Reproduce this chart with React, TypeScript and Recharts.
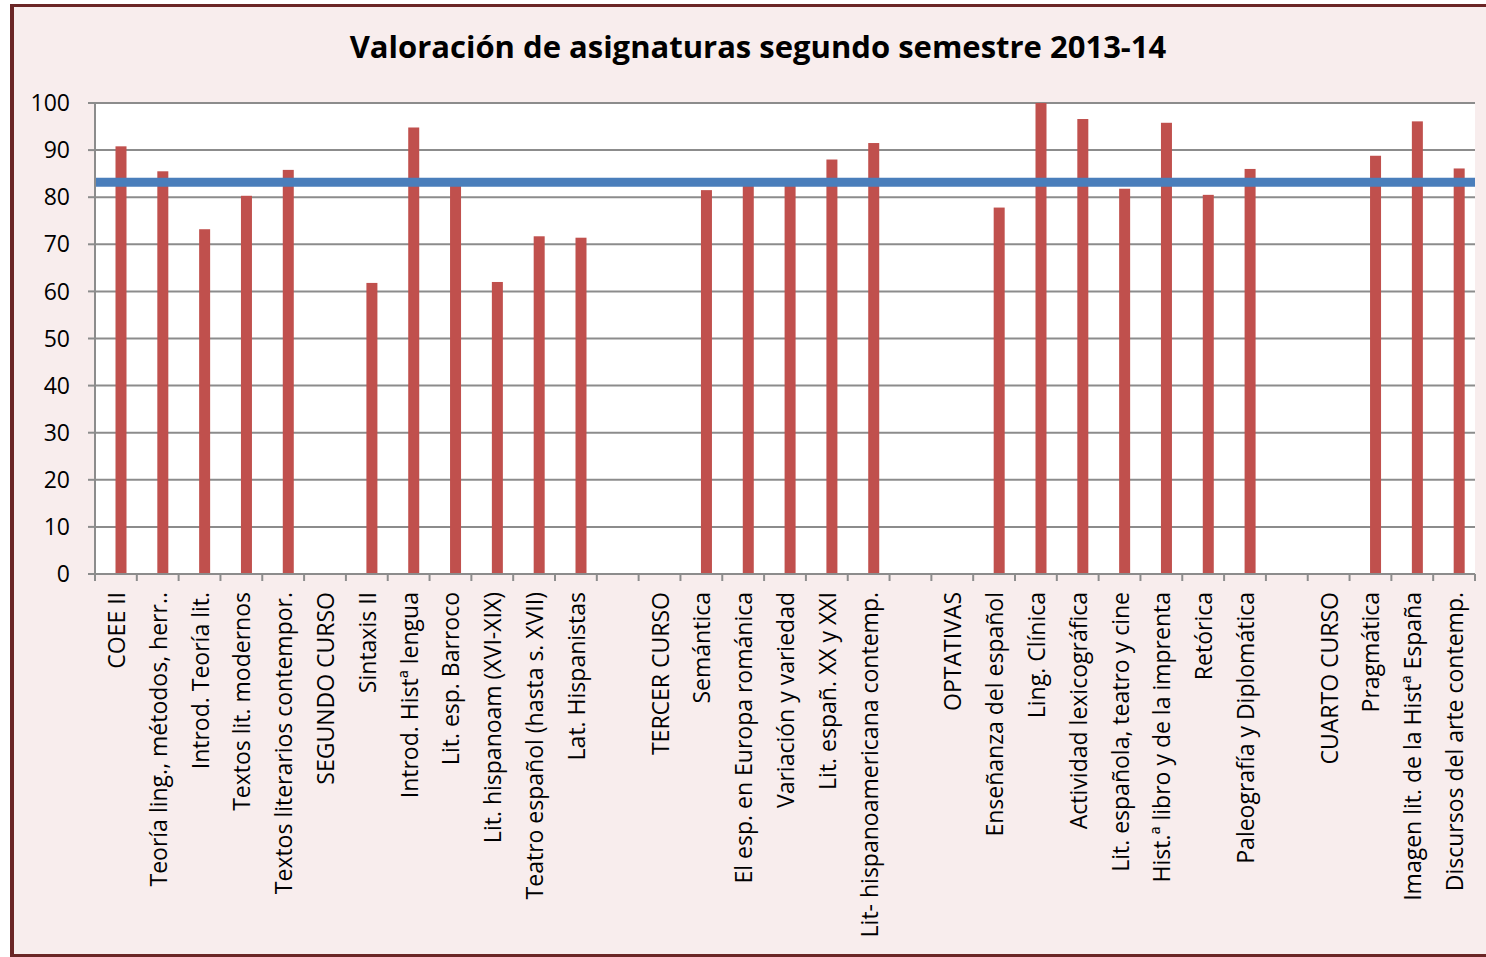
import { BarChart, Bar, XAxis, YAxis, CartesianGrid, ReferenceLine } from "recharts";

const CATEGORIES = [
  "COEE II",
  "Teoría ling., métodos, herr..",
  "Introd. Teoría lit.",
  "Textos lit. modernos",
  "Textos literarios contempor.",
  "SEGUNDO CURSO",
  "Sintaxis II",
  "Introd. Histª lengua",
  "Lit. esp. Barroco",
  "Lit. hispanoam (XVI-XIX)",
  "Teatro español (hasta s. XVII)",
  "Lat. Hispanistas",
  "",
  "TERCER CURSO",
  "Semántica",
  "El esp. en Europa románica",
  "Variación y variedad",
  "Lit. españ. XX y XXI",
  "Lit- hispanoamericana contemp.",
  "",
  "OPTATIVAS",
  "Enseñanza del español",
  "Ling. Clínica",
  "Actividad lexicográfica",
  "Lit. española, teatro y cine",
  "Hist.ª libro y de la imprenta",
  "Retórica",
  "Paleografía y Diplomática",
  "",
  "CUARTO CURSO",
  "Pragmática",
  "Imagen lit. de la Histª España",
  "Discursos del arte contemp.",
];

const VALUES: (number | null)[] = [
  90.8, 85.5, 73.2, 80.3, 85.8, null, 61.8, 94.8, 82.6, 62.0, 71.7, 71.4, null,
  null, 81.5, 82.7, 82.6, 88.0, 91.5, null, null, 77.8, 100, 96.6, 81.8, 95.8,
  80.5, 86.0, null, null, 88.8, 96.1, 86.1,
];

const MEDIA = 83.2;
const Y_TICKS = [0, 10, 20, 30, 40, 50, 60, 70, 80, 90, 100];

const data = CATEGORIES.map((name, i) => ({ name, valor: VALUES[i] }));

const FONT = "'Open Sans', sans-serif";
const GRID = "#8c8c8c";

function XTick(props: any) {
  const { x, y, payload, index } = props;
  const off = payload.offset ?? 20.9;
  return (
    <g>
      <line x1={x - off} y1={y} x2={x - off} y2={y + 7} stroke={GRID} strokeWidth={2} />
      {index === CATEGORIES.length - 1 && (
        <line x1={x + off} y1={y} x2={x + off} y2={y + 7} stroke={GRID} strokeWidth={2} />
      )}
      <text
        transform={`translate(${x},${y + 18}) rotate(-90)`}
        textAnchor="end"
        dominantBaseline="central"
        fontFamily={FONT}
        fontSize={23}
        fill="#000"
      >
        {payload.value}
      </text>
    </g>
  );
}

// second (empty) slot of the cluster sits on the left, so bars are nudged right
function OffsetBar(props: any) {
  const { x, y, width, height } = props;
  if (!height) return null;
  return <rect x={x + width / 2} y={y} width={width} height={height} fill="#c0504d" />;
}

export default function App() {
  return (
    <div style={{ position: "absolute", left: 0, top: 0, width: 1486, height: 957, overflow: "hidden", background: "#fff" }}>
      <div
        style={{
          position: "absolute",
          left: 10,
          top: 4,
          width: 1500,
          height: 947,
          background: "#f8eded",
          borderLeft: "4px solid #6b2626",
          borderTop: "3px solid #6b2626",
          borderBottom: "3px solid #6b2626",
        }}
      />
      <div
        style={{
          position: "absolute",
          left: 0,
          width: 1516,
          top: 25,
          textAlign: "center",
          fontFamily: FONT,
          fontWeight: 700,
          fontSize: 31,
          color: "#000",
        }}
      >
        Valoración de asignaturas segundo semestre 2013-14
      </div>
      <div style={{ position: "absolute", left: 0, top: 0 }}>
        <BarChart
          width={1486}
          height={957}
          data={data}
          margin={{ top: 103, right: 11, left: 15, bottom: 13 }}
          barSize={11}
        >
          <CartesianGrid vertical={false} fill="#ffffff" stroke={GRID} strokeWidth={2} horizontalValues={Y_TICKS} />
          <XAxis
            dataKey="name"
            interval={0}
            height={370}
            tickLine={false}
            tickSize={0}
            tickMargin={0}
            axisLine={{ stroke: GRID, strokeWidth: 2 }}
            tick={<XTick />}
          />
          <YAxis
            domain={[0, 100]}
            ticks={Y_TICKS}
            width={80}
            tickSize={7}
            tickMargin={18}
            axisLine={{ stroke: GRID, strokeWidth: 2 }}
            tickLine={{ stroke: GRID, strokeWidth: 2 }}
            tick={{ fontFamily: FONT, fontSize: 23, fill: "#000" }}
          />
          <Bar dataKey="valor" isAnimationActive={false} shape={<OffsetBar />} />
          <ReferenceLine y={MEDIA} stroke="#4a7ebb" strokeWidth={9} ifOverflow="visible" />
        </BarChart>
      </div>
    </div>
  );
}
